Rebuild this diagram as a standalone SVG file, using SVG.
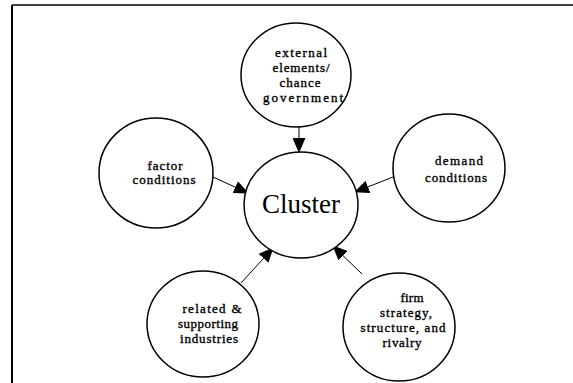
<svg xmlns="http://www.w3.org/2000/svg" width="573" height="383" viewBox="0 0 573 383">
<style>
.node{fill:#fff;stroke:#000;stroke-width:1.5}
.t{font-family:"Liberation Serif",serif;font-size:13px;fill:#000;stroke:#000;stroke-width:0.35;text-anchor:middle}
.big{font-family:"Liberation Serif",serif;font-size:27px;fill:#000;text-anchor:middle}
.c{stroke:#000;stroke-width:1;fill:none;marker-end:url(#ah)}
</style>
<defs>
<marker id="ah" viewBox="0 0 15 13" refX="14" refY="6.5" markerWidth="15" markerHeight="13" markerUnits="userSpaceOnUse" orient="auto">
<path d="M0,0 L15,6.5 L0,13 Z" fill="#000"/>
</marker>
</defs>
<rect width="573" height="383" fill="#fff"/>
<g id="frame" stroke="#000" fill="none">
<line x1="12" y1="5" x2="573" y2="5" stroke-width="1.5"/>
<line x1="12" y1="5" x2="12" y2="383" stroke-width="2"/>
</g>
<g id="connectors">
<line class="c" x1="299" y1="126" x2="299" y2="152"/>
<line class="c" x1="213" y1="177" x2="248" y2="193"/>
<line class="c" x1="393" y1="177" x2="355" y2="192"/>
<line class="c" x1="241" y1="283" x2="273" y2="248"/>
<line class="c" x1="362" y1="274" x2="333" y2="246"/>
</g>
<g id="external">
<ellipse class="node" cx="296" cy="75" rx="55" ry="52"/>
<text class="t" x="301" y="57" textLength="52" lengthAdjust="spacing">external</text>
<text class="t" x="301" y="72" textLength="57" lengthAdjust="spacing">elements/</text>
<text class="t" x="300" y="87" textLength="41" lengthAdjust="spacing">chance</text>
<text class="t" x="303" y="102" textLength="80" lengthAdjust="spacing">government</text>
</g>
<g id="factor">
<ellipse class="node" cx="156" cy="173" rx="57" ry="55"/>
<text class="t" x="165" y="170" textLength="35" lengthAdjust="spacing">factor</text>
<text class="t" x="164" y="184" textLength="63" lengthAdjust="spacing">conditions</text>
</g>
<g id="cluster">
<ellipse class="node" cx="301" cy="205" rx="57" ry="53"/>
<text class="big" x="301" y="213">Cluster</text>
</g>
<g id="demand">
<ellipse class="node" cx="449" cy="168" rx="56" ry="54"/>
<text class="t" x="459" y="165" textLength="48" lengthAdjust="spacing">demand</text>
<text class="t" x="456" y="182" textLength="62" lengthAdjust="spacing">conditions</text>
</g>
<g id="related">
<ellipse class="node" cx="203" cy="324" rx="56" ry="53"/>
<text class="t" x="212" y="313" textLength="59" lengthAdjust="spacing">related &amp;</text>
<text class="t" x="208" y="328" textLength="60" lengthAdjust="spacing">supporting</text>
<text class="t" x="209" y="343" textLength="58" lengthAdjust="spacing">industries</text>
</g>
<g id="firm">
<ellipse class="node" cx="399" cy="327" rx="56" ry="54"/>
<text class="t" x="412" y="302" textLength="23" lengthAdjust="spacing">firm</text>
<text class="t" x="406" y="317" textLength="52" lengthAdjust="spacing">strategy,</text>
<text class="t" x="403" y="332" textLength="85" lengthAdjust="spacing">structure, and</text>
<text class="t" x="402" y="347" textLength="39" lengthAdjust="spacing">rivalry</text>
</g>
</svg>
